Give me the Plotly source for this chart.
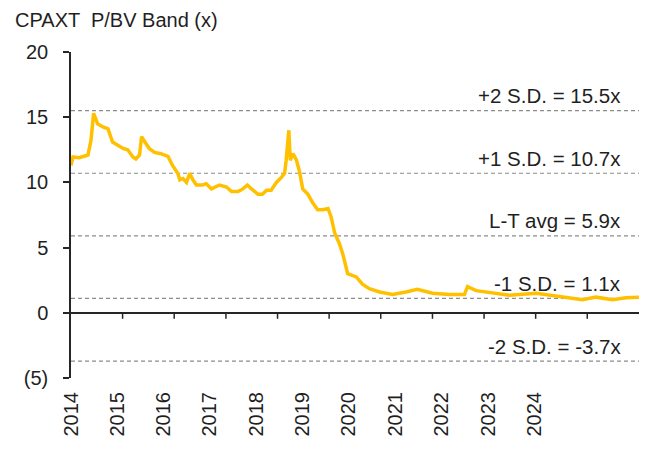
import pandas as pd
import plotly.graph_objects as go

# ---- data ----
dates = [
    "2014-01-01", "2014-01-15", "2014-03-01", "2014-05-01", "2014-05-22", "2014-06-10",
    "2014-07-08", "2014-08-15", "2014-09-20", "2014-10-22", "2014-11-28", "2015-01-05",
    "2015-02-06", "2015-03-15", "2015-04-05", "2015-05-01", "2015-05-15", "2015-06-06",
    "2015-07-08", "2015-08-15", "2015-09-28", "2015-11-18", "2015-12-20", "2016-01-26",
    "2016-02-10", "2016-03-03", "2016-03-28", "2016-04-20", "2016-05-12", "2016-06-06",
    "2016-07-20", "2016-08-15", "2016-09-20", "2016-11-17", "2017-01-05", "2017-02-10",
    "2017-03-28", "2017-05-01", "2017-06-02", "2017-07-01", "2017-08-15", "2017-09-16",
    "2017-10-15", "2017-11-17", "2017-12-24", "2018-01-30", "2018-02-20", "2018-03-03",
    "2018-03-22", "2018-04-01", "2018-04-20", "2018-05-15", "2018-06-06", "2018-06-28",
    "2018-08-03", "2018-09-09", "2018-10-12", "2018-11-17", "2018-12-24", "2019-01-15",
    "2019-02-10", "2019-03-15", "2019-04-08", "2019-05-12", "2019-07-12", "2019-08-25",
    "2019-10-12", "2019-12-24", "2020-03-25", "2020-06-28", "2020-09-16", "2021-01-01",
    "2021-05-01", "2021-08-15", "2021-09-06", "2021-11-06", "2022-03-03", "2022-06-28",
    "2023-01-05", "2023-06-17", "2023-11-28", "2024-03-03", "2024-06-28", "2024-10-01",
    "2024-12-31",
]
pbv = [
    11.3, 11.95, 11.9, 12.1, 13.2, 15.3,
    14.5, 14.25, 14.1, 13.1, 12.85, 12.6,
    12.5, 11.95, 11.8, 12.1, 13.5, 13.1,
    12.6, 12.3, 12.2, 12.0, 11.3, 10.7,
    10.2, 10.3, 10.0, 10.7, 10.2, 9.8,
    9.8, 9.9, 9.5, 9.8, 9.65, 9.3,
    9.3, 9.5, 9.8, 9.5, 9.1, 9.1,
    9.4, 9.4, 10.0, 10.4, 10.7, 11.7,
    14.0, 11.7, 12.2, 11.7, 10.8, 9.5,
    9.1, 8.4, 7.9, 7.9, 8.0, 7.35,
    6.1, 5.3, 4.5, 3.0, 2.75, 2.2,
    1.85, 1.6, 1.4, 1.6, 1.8, 1.5,
    1.4, 1.4, 2.0, 1.7, 1.5, 1.35,
    1.5, 1.25, 1.0, 1.2, 1.0, 1.15,
    1.2,
]

band_values = [15.5, 10.7, 5.9, 1.1, -3.7]
band_labels = ["+2 S.D. = 15.5x", "+1 S.D. = 10.7x", "L-T avg = 5.9x",
               "-1 S.D. = 1.1x", "-2 S.D. = -3.7x"]

year_labels = ["2014", "2015", "2016", "2017", "2018", "2019",
               "2020", "2021", "2022", "2023", "2024"]
y_tickvals = [-5, 0, 5, 10, 15, 20]
y_ticktext = ["(5)", "0", "5", "10", "15", "20"]

title_text = "CPAXT  P/BV Band (x)"

# ---- layout helpers ----
FONT = "Liberation Sans, Arial, sans-serif"
TXT = "#1f1f1f"
AX = "#262626"
x_range = ["2014-01-01", "2025-01-01"]
base = pd.Timestamp("2014-01-01")
label_step = pd.Timedelta(days=0.8975 * 365.25)
label_pos = [(base + i * label_step).strftime("%Y-%m-%d") for i in range(len(year_labels))]
year_ticks = [f"{y}-01-01" for y in range(2015, 2025)]

# page has an 8px body margin; figure is sized so it fits 647x451 exactly
W, H = 631, 435
L, T, PW, PH = 63, 44, 568, 326
R, B = W - L - PW, H - T - PH

fig = go.Figure()

fig.add_trace(go.Scatter(
    x=dates, y=pbv, mode="lines",
    line=dict(color="#FFC000", width=3.5), hoverinfo="skip", showlegend=False,
))

# dashed band lines + labels
for v, lab in zip(band_values, band_labels):
    fig.add_shape(type="line", xref="x domain", yref="y", x0=0, x1=1, y0=v, y1=v,
                  line=dict(color="#8c8c8c", width=1.2, dash="4px,3px"), layer="below")
    fig.add_annotation(x=(615 - L) / PW, xref="paper", y=v, yref="y", text=lab,
                       showarrow=False, xanchor="right", yanchor="middle", yshift=15,
                       font=dict(family=FONT, size=20.5, color=TXT))

# year tick marks hanging below the zero line
tick_len = 6 * 25 / PH
for t in year_ticks:
    fig.add_shape(type="line", xref="x", yref="y", x0=t, x1=t, y0=0, y1=-tick_len,
                  line=dict(color=AX, width=1.5))

# chart title
fig.add_annotation(x=(5 - L) / PW, xref="paper", y=1 + (T - 12) / PH, yref="paper",
                   text=title_text, showarrow=False, xanchor="left", yanchor="middle",
                   font=dict(family=FONT, size=20, color=TXT))

fig.update_layout(
    template="none",
    width=W, height=H,
    margin=dict(l=L, r=R, t=T, b=B, pad=0, autoexpand=False),
    paper_bgcolor="white", plot_bgcolor="white",
    showlegend=False,
    font=dict(family=FONT, size=20, color=TXT),
    xaxis=dict(
        type="date", range=x_range, showgrid=False, zeroline=False, showline=False,
        automargin=False,
        ticks="", tickmode="array", tickvals=label_pos, ticktext=year_labels,
        tickangle=-90, ticklabelstandoff=9,
        tickfont=dict(family=FONT, size=20, color=TXT),
    ),
    yaxis=dict(
        range=[-5, 20], showgrid=False, showline=True, automargin=False,
        zeroline=True, zerolinecolor=AX, zerolinewidth=1.5,
        linecolor=AX, linewidth=1.5, ticks="outside", ticklen=6, tickwidth=1.5,
        tickcolor=AX, tickmode="array", tickvals=y_tickvals, ticktext=y_ticktext,
        ticklabelstandoff=11, tickfont=dict(family=FONT, size=20, color=TXT),
    ),
)

fig.write_html("out.html")
